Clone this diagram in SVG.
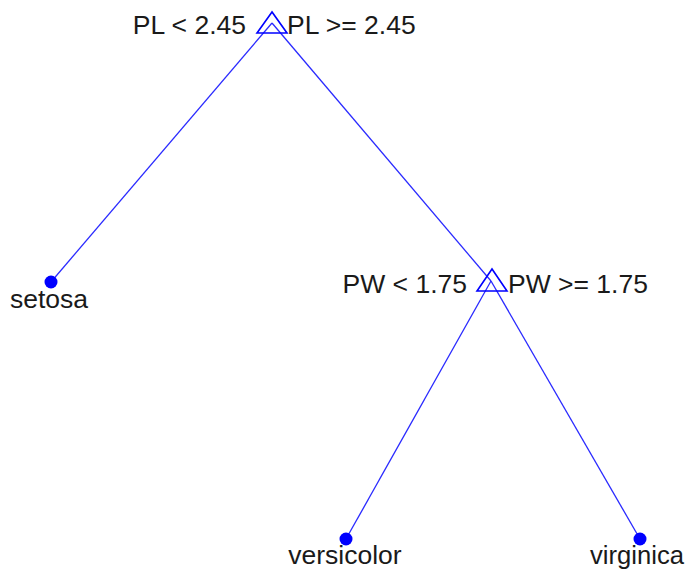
<svg xmlns="http://www.w3.org/2000/svg" width="686" height="572" viewBox="0 0 686 572">
<style>
.edge{stroke:#2a2aff;stroke-width:1.3;fill:none}
.split{stroke:#0000ff;stroke-width:1.6;fill:none}
.leaf{fill:#0000ff}
text{font-family:"Liberation Sans",Arial,sans-serif;font-size:26.5px;fill:#1a1a1a}
.l{text-anchor:end}
.c{text-anchor:middle}
</style>
<rect width="686" height="572" fill="#ffffff"/>
<g id="connectors">
<line class="edge" x1="272" y1="23" x2="51" y2="282"/>
<line class="edge" x1="272" y1="23" x2="491" y2="281"/>
<line class="edge" x1="491" y1="281" x2="346" y2="539"/>
<line class="edge" x1="491" y1="281" x2="640" y2="539"/>
</g>
<g id="node-root">
<polygon class="split" points="272,12 257,33 287,33"/>
<text class="l" x="246" y="34">PL &lt; 2.45</text>
<text x="287" y="34">PL &gt;= 2.45</text>
</g>
<g id="node-pw">
<polygon class="split" points="492,269 477,291 507,291"/>
<text class="l" x="467" y="293">PW &lt; 1.75</text>
<text x="508" y="293">PW &gt;= 1.75</text>
</g>
<g id="leaf-setosa">
<circle class="leaf" cx="51" cy="282" r="6.5"/>
<text class="c" x="49" y="308">setosa</text>
</g>
<g id="leaf-versicolor">
<circle class="leaf" cx="346" cy="539" r="6.5"/>
<text class="c" x="345" y="564">versicolor</text>
</g>
<g id="leaf-virginica">
<circle class="leaf" cx="640" cy="539" r="6.5"/>
<text class="l" x="684" y="564" textLength="94" lengthAdjust="spacingAndGlyphs">virginica</text>
</g>
</svg>
